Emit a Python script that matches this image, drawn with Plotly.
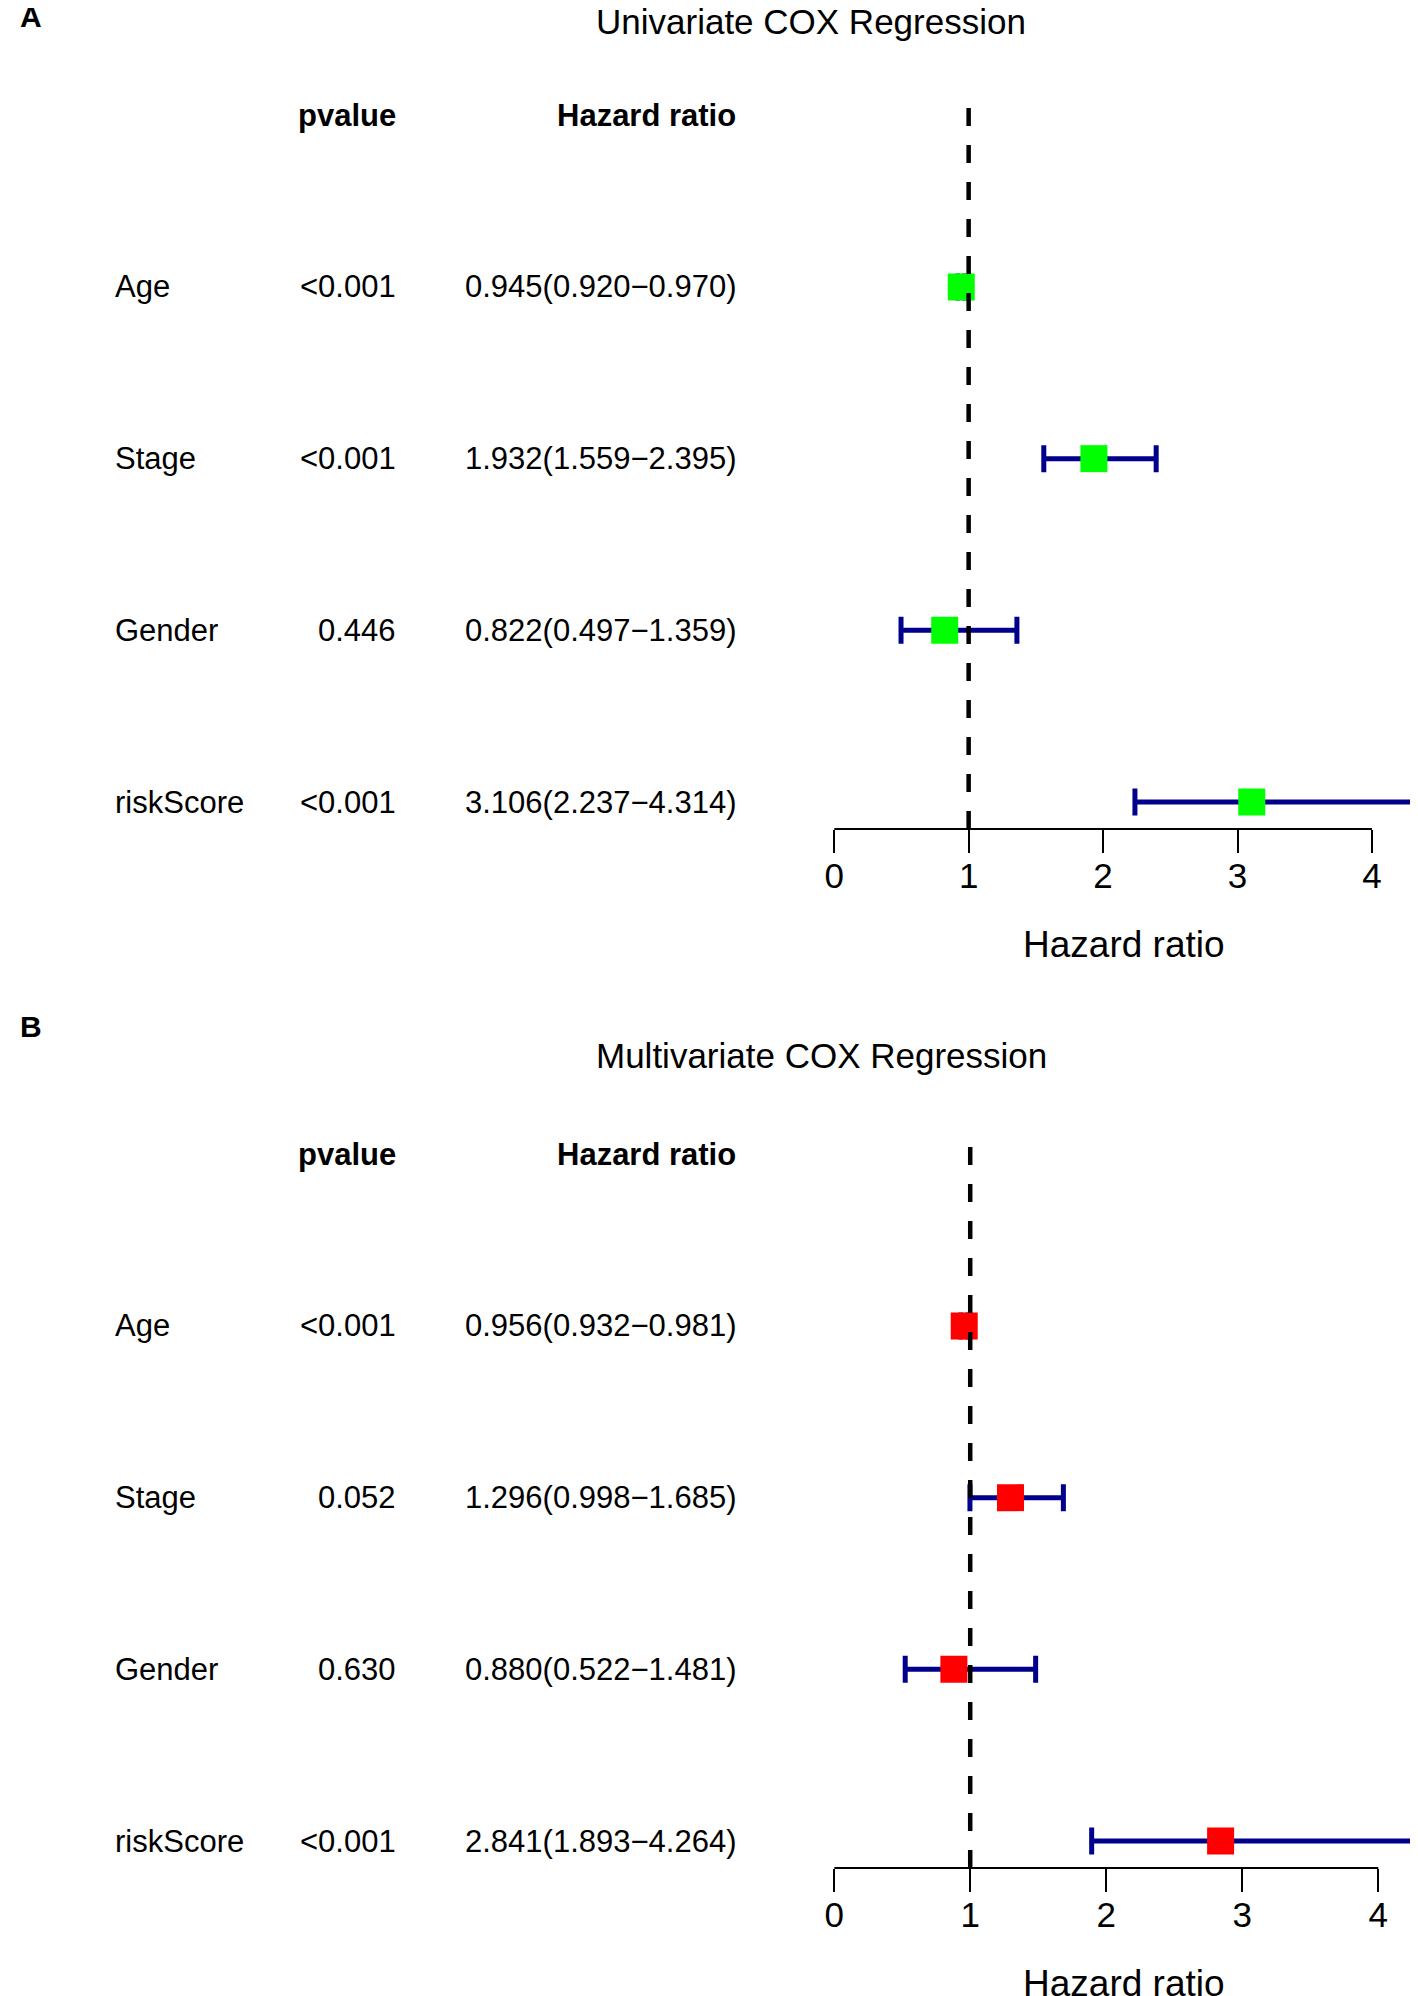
import plotly.graph_objects as go

# data
variables = ["Age", "Stage", "Gender", "riskScore"]

uni_pvalue = ["<0.001", "<0.001", "0.446", "<0.001"]
uni_hr = [0.945, 1.932, 0.822, 3.106]
uni_low = [0.920, 1.559, 0.497, 2.237]
uni_high = [0.970, 2.395, 1.359, 4.314]

multi_pvalue = ["<0.001", "0.052", "0.630", "<0.001"]
multi_hr = [0.956, 1.296, 0.880, 2.841]
multi_low = [0.932, 0.998, 0.522, 1.893]
multi_high = [0.981, 1.685, 1.481, 4.264]

tick_values = [0, 1, 2, 3, 4]

W, H = 1418, 1996
PAGE_X, PAGE_Y = 11, 8  # the html body margin shifts the figure
FONT = "Arial, Liberation Sans, sans-serif"
row_pos = [4, 3, 2, 1]  # Age at top, riskScore at bottom


def px(x):
    return (x - PAGE_X) / W


def py(y):
    return 1 - (y - PAGE_Y) / H


panels = [
    dict(tag="A", title="Univariate COX Regression", pvalue=uni_pvalue, hr=uni_hr,
         low=uni_low, high=uni_high, color="#00FF00", off=0, tag_y=16, title_y=21,
         x="x", y="y"),
    dict(tag="B", title="Multivariate COX Regression", pvalue=multi_pvalue, hr=multi_hr,
         low=multi_low, high=multi_high, color="#FF0000", off=1039, tag_y=1026,
         title_y=1055, x="x2", y="y2"),
]

fig = go.Figure()
annotations = []
shapes = []

for i, p in enumerate(panels):
    off = p["off"]
    sfx = "" if i == 0 else str(i + 1)

    fig.add_trace(go.Scatter(
        x=p["hr"], y=row_pos, xaxis=p["x"], yaxis=p["y"],
        mode="markers",
        marker=dict(symbol="square", size=27, color=p["color"], line=dict(width=0)),
        error_x=dict(type="data", symmetric=False,
                     array=[h - m for h, m in zip(p["high"], p["hr"])],
                     arrayminus=[m - l for m, l in zip(p["hr"], p["low"])],
                     color="#00008B", thickness=5, width=13.5),
        showlegend=False, hoverinfo="skip",
    ))

    # y axis: one unit per row, rows 171.7 px apart
    top_px = 287 + off - 1.5 * 171.7
    bot_px = 802 + off + 0.5 * 171.7
    fig.update_layout(**{
        "yaxis" + sfx: dict(domain=[py(bot_px), py(top_px)], range=[0.5, 5.5],
                            visible=False, fixedrange=True),
        "xaxis" + sfx: dict(domain=[px(833), px(1420)], range=[0, max(p["high"]) * 1.005],
                            anchor="free", position=py(829 + off),
                            showgrid=False, zeroline=False, showline=False,
                            tickvals=tick_values, ticks="outside", ticklen=23,
                            tickwidth=2, tickcolor="black", ticklabelstandoff=-7,
                            tickfont=dict(size=35, color="black", family=FONT),
                            fixedrange=True),
    })

    # axis line only spans the tick range, like base R axis()
    shapes.append(dict(type="line", xref=p["x"], yref="paper",
                       x0=tick_values[0], x1=tick_values[-1],
                       y0=py(829 + off), y1=py(829 + off),
                       line=dict(color="black", width=2)))
    # reference line at HR = 1
    shapes.append(dict(type="line", xref=p["x"], yref="paper", x0=1, x1=1,
                       y0=py(829 + off), y1=py(104 + off),
                       line=dict(color="black", width=4.5, dash="18px,19px")))

    # panel letter and title
    annotations.append(dict(text="<b>" + p["tag"] + "</b>", xref="paper", yref="paper",
                            x=0, y=py(p["tag_y"]), xanchor="left", yanchor="middle",
                            showarrow=False, font=dict(size=30, family=FONT, color="black")))
    annotations.append(dict(text=p["title"], xref="paper", yref="paper",
                            x=px(591), y=py(p["title_y"]), xanchor="left", yanchor="middle",
                            showarrow=False, font=dict(size=35, family=FONT, color="black")))
    annotations.append(dict(text="Hazard ratio", xref="paper", yref="paper",
                            x=px((833 + 1417) / 2), y=py(944 + off),
                            xanchor="center", yanchor="middle", showarrow=False,
                            font=dict(size=37, family=FONT, color="black")))

    # table headers
    annotations.append(dict(text="<b>pvalue</b>", xref="paper", yref=p["y"],
                            x=px(394), y=5, xanchor="right", yanchor="middle",
                            showarrow=False, font=dict(size=31, family=FONT, color="black")))
    annotations.append(dict(text="<b>Hazard ratio</b>", xref="paper", yref=p["y"],
                            x=px(736), y=5, xanchor="right", yanchor="middle",
                            showarrow=False, font=dict(size=31, family=FONT, color="black")))

    # table rows
    for name, pv, hr, lo, hi, yv in zip(variables, p["pvalue"], p["hr"], p["low"],
                                        p["high"], row_pos):
        hr_text = f"{hr:.3f}({lo:.3f}\u2212{hi:.3f})"
        for txt, xpos, anchor in [(name, 107, "left"), (pv, 394, "right"),
                                  (hr_text, 736, "right")]:
            annotations.append(dict(text=txt, xref="paper", yref=p["y"],
                                    x=px(xpos), y=yv, xanchor=anchor, yanchor="middle",
                                    showarrow=False,
                                    font=dict(size=31, family=FONT, color="black")))

fig.update_layout(
    width=W, height=H,
    margin=dict(l=0, r=0, t=0, b=0),
    paper_bgcolor="white", plot_bgcolor="white",
    font=dict(family=FONT, color="black"),
    annotations=annotations, shapes=shapes,
)

fig.write_html("out.html")
